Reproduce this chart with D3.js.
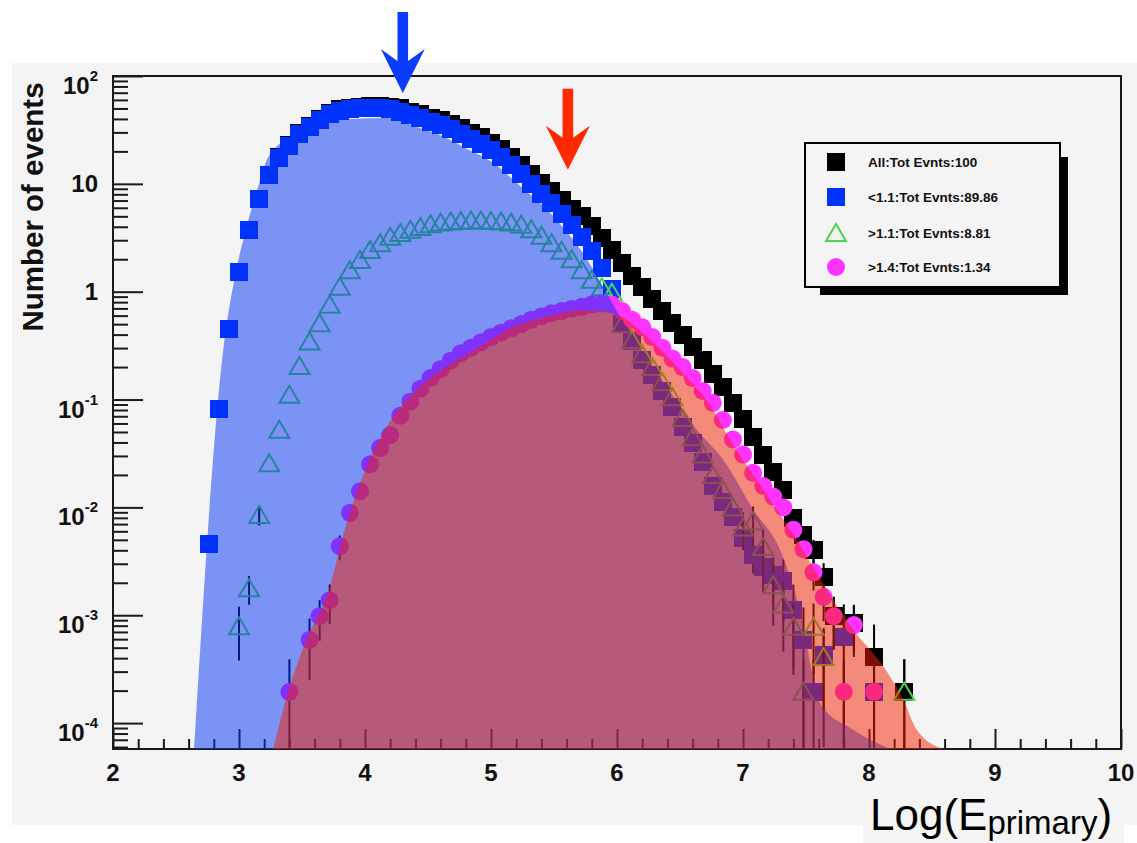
<!DOCTYPE html>
<html>
<head>
<meta charset="utf-8">
<script src="https://cdn.jsdelivr.net/npm/d3@7"></script>
<style>
  body { margin: 0; background: #ffffff; }
  svg { display: block; font-family: "Liberation Sans", Arial, Helvetica, sans-serif; }
</style>
</head>
<body>
<svg id="chart" width="1137" height="843"></svg>
<script>
// ---------------------------------------------------------------
// Histogram bin centres (log10 of primary energy), bin width 0.08
// ---------------------------------------------------------------
const logE = [
  2.76, 2.84, 2.92, 3.00, 3.08, 3.16, 3.24, 3.32, 3.40, 3.48,
  3.56, 3.64, 3.72, 3.80, 3.88, 3.96, 4.04, 4.12, 4.20, 4.28,
  4.36, 4.44, 4.52, 4.60, 4.68, 4.76, 4.84, 4.92, 5.00, 5.08,
  5.16, 5.24, 5.32, 5.40, 5.48, 5.56, 5.64, 5.72, 5.80, 5.88,
  5.96, 6.04, 6.12, 6.20, 6.28, 6.36, 6.44, 6.52, 6.60, 6.68,
  6.76, 6.84, 6.92, 7.00, 7.08, 7.16, 7.24, 7.32, 7.40, 7.48,
  7.56, 7.64, 7.72, 7.80, 7.88, 7.96, 8.04, 8.12, 8.20, 8.28
];

// Number of events per bin (null = empty bin)
const allEvents = [
  0.0046, 0.081, 0.45, 1.51, 3.72, 7.24, 12.0, 17.8, 22.9, 29.5,
  34.7, 39.8, 45.7, 49.0, 50.1, 51.3, 52.5, 52.5, 51.9, 50.1,
  46.8, 44.2, 41.2, 38.9, 35.9, 32.7, 29.9, 26.9, 24.0, 20.9,
  17.8, 14.8, 12.3, 10.2, 8.51, 7.08, 5.89, 5.01, 4.07, 3.16,
  2.45, 1.86, 1.41, 1.10, 0.851, 0.661, 0.513, 0.398, 0.309, 0.234,
  0.174, 0.132, 0.0933, 0.0661, 0.0447, 0.0309, 0.0214, 0.0145, 0.0079, 0.0055,
  0.0040, 0.00224, 0.00098, 0.00063, 0.00085, null, 0.00041, null, null, 0.000195
];
const ltOne = [
  0.0046, 0.081, 0.45, 1.51, 3.72, 7.24, 12.0, 17.4, 22.4, 28.8,
  33.9, 38.9, 44.2, 47.3, 49.0, 50.1, 50.7, 50.1, 49.0, 46.8,
  43.7, 40.7, 37.6, 35.1, 32.0, 28.8, 26.0, 23.2, 20.4, 17.6,
  14.8, 12.3, 10.0, 8.13, 6.61, 5.25, 4.17, 3.24, 2.40, 1.66,
  1.07, 0.50, 0.347, 0.234, 0.170, 0.120, 0.0851, 0.0562, 0.0398, 0.0263,
  0.0158, 0.0112, 0.00813, 0.00525, 0.00363, 0.00282, 0.00234, 0.00209, 0.00112, 0.00059,
  0.000195, 0.00043, null, 0.00063, null, null, 0.000195, null, null, null
];
const gtOne = [
  null, null, null, 0.00079, 0.00178, 0.0085, 0.0257, 0.0525, 0.111, 0.205,
  0.345, 0.51, 0.755, 1.11, 1.58, 1.97, 2.44, 2.82, 3.24, 3.51,
  3.76, 3.98, 4.22, 4.37, 4.47, 4.52, 4.57, 4.57, 4.52, 4.47,
  4.37, 4.17, 3.80, 3.31, 2.82, 2.40, 2.00, 1.58, 1.29, 1.10,
  0.98, 0.50, 0.355, 0.263, 0.20, 0.145, 0.105, 0.0676, 0.0447, 0.0309,
  0.020, 0.0145, 0.010, 0.0065, 0.0074, 0.0043, 0.0019, 0.00126, 0.00078, 0.000195,
  0.00078, 0.00041, null, null, null, null, null, null, null, 0.000195
];
const gtOneFour = [
  null, null, null, null, null, null, null, null, 0.000195, null,
  0.00059, 0.00098, 0.00138, 0.00437, 0.0089, 0.0141, 0.0251, 0.0355, 0.0468, 0.0708,
  0.0955, 0.126, 0.158, 0.191, 0.229, 0.269, 0.302, 0.339, 0.380, 0.417,
  0.457, 0.501, 0.550, 0.589, 0.631, 0.661, 0.692, 0.724, 0.759, 0.776,
  0.759, 0.661, 0.550, 0.468, 0.380, 0.302, 0.240, 0.200, 0.158, 0.120,
  0.0933, 0.0646, 0.0427, 0.0309, 0.0209, 0.0158, 0.0126, 0.0100, 0.0062, 0.0041,
  0.0025, 0.00148, 0.00098, 0.000195, 0.00081, null, 0.000195, null, null, null
];

// Statistical errors on the sparsely populated bins: [logE, error]
const allErr = [[7.40, 0.0015], [7.48, 0.0012], [7.56, 0.0010], [7.64, 0.0008], [7.72, 0.0005],
                [7.88, 0.0004], [8.04, 0.00041], [8.28, 0.000195]];
const ltOneErr = [[7.08, 0.0012], [7.16, 0.0012], [7.24, 0.0011], [7.32, 0.0012], [7.40, 0.0008],
                  [7.48, 0.00059], [7.56, 0.000195], [7.64, 0.0003], [7.80, 0.00063], [8.04, 0.000195]];
const gtOneErr = [[3.00, 0.00041], [3.08, 0.00053], [3.16, 0.0017], [7.00, 0.0025], [7.08, 0.0028],
                  [7.16, 0.0020], [7.24, 0.0011], [7.32, 0.0008], [7.40, 0.0005], [7.48, 0.000195],
                  [7.56, 0.0005], [7.64, 0.00035], [8.28, 0.000195]];
const gtOneFourErr = [[3.40, 0.000195], [3.56, 0.00034], [3.64, 0.0004], [3.72, 0.00055], [3.80, 0.0011],
                      [3.88, 0.0016], [7.56, 0.0008], [7.64, 0.0006], [7.72, 0.0005], [7.80, 0.000195],
                      [7.88, 0.0004], [8.04, 0.000195]];

// Shaded envelopes: [logE, events]; 0 = down to the lower edge of the frame
const lowBand = [
  [2.643, 0], [2.875, 0.289], [2.968, 1.38], [3.061, 4.01], [3.153, 9.42], [3.22, 16.6],
  [3.405, 27.4], [3.55, 36.3], [3.867, 39.8], [4.172, 40.7], [4.437, 32.7], [4.595, 28.4],
  [4.78, 22.0], [5.045, 14.8], [5.204, 10.2], [5.442, 5.8], [5.60, 3.6], [5.706, 2.5],
  [5.812, 1.6], [5.918, 0.97], [6.024, 0.587], [6.236, 0.25], [6.447, 0.107], [6.633, 0.0525],
  [6.844, 0.0276], [7.082, 0.0095], [7.294, 0.00405], [7.452, 0.00112], [7.611, 0.000153],
  [7.875, 0.0000869], [8.167, 0]
];
const highBand = [
  [3.272, 0], [3.379, 0.000177], [3.537, 0.000593], [3.696, 0.00149], [3.855, 0.00714],
  [4.013, 0.0239], [4.225, 0.0695], [4.437, 0.132], [4.648, 0.202], [4.913, 0.31],
  [5.177, 0.475], [5.442, 0.587], [5.706, 0.678], [5.918, 0.655], [6.024, 0.597],
  [6.236, 0.384], [6.5, 0.188], [6.764, 0.0802], [6.897, 0.0423], [7.161, 0.0146],
  [7.426, 0.00501], [7.664, 0.00172], [7.875, 0.000735], [8.113, 0.000336],
  [8.272, 0.000165], [8.379, 0.0000869], [8.59, 0]
];

// Axis ticks
const xMajorTicks = [2, 3, 4, 5, 6, 7, 8, 9, 10];
const yDecades = [-4, -3, -2, -1, 0, 1, 2];

// Legend
const legendLabels = ["All:Tot Evnts:100", "<1.1:Tot Evnts:89.86", ">1.1:Tot Evnts:8.81", ">1.4:Tot Evnts:1.34"];

// Arrows marking the two peak positions: [logE, tip value]
const arrowMarks = [[4.30, 69.5], [5.61, 13.5]];

// ---------------------------------------------------------------
const svg = d3.select("#chart");
const frame = { left: 113, right: 1121, top: 76, bottom: 749 };
const x = d3.scaleLinear().domain([2, 10]).range([frame.left, frame.right]);
const y = d3.scaleLog().domain([5.75e-5, 100]).range([frame.bottom, frame.top]);

const BG = "#f4f4f4";
const colAll = "#000000", colLow = "#0033ff", colMid = "#4fd34f", colHigh = "#ff33ff";

// canvas
svg.append("rect").attr("x", 12).attr("y", 63).attr("width", 1125).attr("height", 762).attr("fill", BG);
svg.append("rect").attr("x", 863).attr("y", 790).attr("width", 261).attr("height", 53).attr("fill", BG);

svg.append("defs").append("clipPath").attr("id", "plotClip")
  .append("rect").attr("x", frame.left).attr("y", frame.top)
  .attr("width", frame.right - frame.left).attr("height", frame.bottom - frame.top);

// ---- axes (ticks inside the frame) ----
const axisG = svg.append("g");
const yMajor = yDecades.map(d => Math.pow(10, d));
const yMinor = [];
for (let d = -5; d <= 1; d++) for (let k = 2; k <= 9; k++) {
  const v = k * Math.pow(10, d);
  if (v >= y.domain()[0] && v <= 100) yMinor.push(v);
}
axisG.append("g").attr("transform", `translate(${frame.left},0)`)
  .call(d3.axisRight(y).tickValues(yMajor).tickSize(30).tickFormat(""))
  .call(g => g.select(".domain").remove());
axisG.append("g").attr("transform", `translate(${frame.left},0)`)
  .call(d3.axisRight(y).tickValues(yMinor).tickSize(15).tickFormat(""))
  .call(g => g.select(".domain").remove());
const xMinor = d3.range(2.2, 10, 0.2).filter(v => Math.abs(v - Math.round(v)) > 0.01);
axisG.append("g").attr("transform", `translate(0,${frame.bottom})`)
  .call(d3.axisTop(x).tickValues(xMajorTicks).tickSize(20).tickFormat(""))
  .call(g => g.select(".domain").remove());
axisG.append("g").attr("transform", `translate(0,${frame.bottom})`)
  .call(d3.axisTop(x).tickValues(xMinor).tickSize(10).tickFormat(""))
  .call(g => g.select(".domain").remove());
axisG.selectAll(".tick line").attr("stroke", "#1a1a1a").attr("stroke-width", 2);

svg.append("rect").attr("x", frame.left).attr("y", frame.top)
  .attr("width", frame.right - frame.left).attr("height", frame.bottom - frame.top)
  .attr("fill", "none").attr("stroke", "#1a1a1a").attr("stroke-width", 2);

// x tick labels
svg.append("g").selectAll("text").data(xMajorTicks).join("text")
  .attr("x", d => x(d)).attr("y", frame.bottom + 32)
  .attr("text-anchor", "middle").attr("font-size", 24).attr("font-weight", "bold")
  .attr("fill", "#111").text(d => d);

// y tick labels: 1 and 10 plain, other decades as powers of ten
const yLab = svg.append("g").attr("font-weight", "bold").attr("fill", "#111");
yDecades.forEach(d => {
  const ty = y(Math.pow(10, d));
  if (d === 0 || d === 1) {
    yLab.append("text").attr("x", 98).attr("y", ty + 8).attr("text-anchor", "end")
      .attr("font-size", 24).text(d === 0 ? "1" : "10");
  } else {
    const t = yLab.append("text").attr("x", 98).attr("y", ty + 18).attr("text-anchor", "end");
    t.append("tspan").attr("font-size", 24).text("10");
    t.append("tspan").attr("font-size", 15).attr("dy", -13).text(d);
  }
});

// axis titles
svg.append("text").attr("transform", "translate(43,207) rotate(-90)")
  .attr("text-anchor", "middle").attr("font-size", 29.5).attr("font-weight", "bold")
  .attr("fill", "#111").text("Number of events");
const xt = svg.append("text").attr("x", 870).attr("y", 830).attr("fill", "#000");
xt.append("tspan").attr("font-size", 44).text("Log(E");
xt.append("tspan").attr("font-size", 33).attr("dy", 4).text("primary");
xt.append("tspan").attr("font-size", 44).attr("dy", -4).text(")");

// ---- data points ----
const plot = svg.append("g").attr("clip-path", "url(#plotClip)");
const floorY = frame.bottom;

function toPoints(vals) {
  return logE.map((e, i) => ({ e, v: vals[i] })).filter(p => p.v !== null && p.v > 0);
}
function valueAt(e, vals) {
  const i = logE.findIndex(b => Math.abs(b - e) < 1e-6);
  return vals[i];
}
function drawErrors(list, vals) {
  plot.append("g").selectAll("line").data(list).join("line")
    .attr("x1", d => x(d[0])).attr("x2", d => x(d[0]))
    .attr("y1", d => y(valueAt(d[0], vals) + d[1]))
    .attr("y2", d => {
      const v = valueAt(d[0], vals);
      return v - d[1] > y.domain()[0] ? y(v - d[1]) : floorY;
    })
    .attr("stroke", "#000").attr("stroke-width", 2);
}
const SQ = 18;
function squares(vals, color) {
  plot.append("g").selectAll("rect").data(toPoints(vals)).join("rect")
    .attr("x", d => x(d.e) - SQ / 2).attr("y", d => y(d.v) - SQ / 2)
    .attr("width", SQ).attr("height", SQ).attr("fill", color)
    .attr("shape-rendering", "crispEdges");
}
const triPath = "M0,-9 L10,8 L-10,8 Z";
function triangles(vals, color) {
  plot.append("g").selectAll("path").data(toPoints(vals)).join("path")
    .attr("transform", d => `translate(${x(d.e)},${y(d.v)})`)
    .attr("d", triPath).attr("fill", "none").attr("stroke", color).attr("stroke-width", 2);
}
function circles(vals, color) {
  plot.append("g").selectAll("circle").data(toPoints(vals)).join("circle")
    .attr("cx", d => x(d.e)).attr("cy", d => y(d.v)).attr("r", 9).attr("fill", color);
}

drawErrors(allErr, allEvents);      squares(allEvents, colAll);
drawErrors(ltOneErr, ltOne);        squares(ltOne, colLow);
drawErrors(gtOneErr, gtOne);        triangles(gtOne, colMid);
drawErrors(gtOneFourErr, gtOneFour); circles(gtOneFour, colHigh);

// ---- translucent envelopes drawn over the points ----
const band = d3.area()
  .x(d => x(d[0]))
  .y0(floorY)
  .y1(d => d[1] > 0 ? y(d[1]) : floorY)
  .curve(d3.curveMonotoneX);
plot.append("path").attr("d", band(lowBand)).attr("fill", "rgb(0,50,246)").attr("fill-opacity", 0.5);
plot.append("path").attr("d", band(highBand)).attr("fill", "rgb(244,32,0)").attr("fill-opacity", 0.5);

// ---- legend ----
const lg = svg.append("g");
lg.append("rect").attr("x", 820).attr("y", 157).attr("width", 248).attr("height", 138).attr("fill", "#000");
lg.append("rect").attr("x", 805).attr("y", 143).attr("width", 255).attr("height", 144)
  .attr("fill", BG).attr("stroke", "#000").attr("stroke-width", 2);
const rowY = [162, 197, 233, 267];
lg.append("rect").attr("x", 827).attr("y", rowY[0] - 9).attr("width", SQ).attr("height", SQ).attr("fill", colAll);
lg.append("rect").attr("x", 827).attr("y", rowY[1] - 9).attr("width", SQ).attr("height", SQ).attr("fill", colLow);
lg.append("path").attr("transform", `translate(836,${rowY[2]})`).attr("d", triPath)
  .attr("fill", "none").attr("stroke", colMid).attr("stroke-width", 2);
lg.append("circle").attr("cx", 836).attr("cy", rowY[3]).attr("r", 9).attr("fill", colHigh);
lg.selectAll("text.lbl").data(legendLabels).join("text").attr("class", "lbl")
  .attr("x", 868).attr("y", (d, i) => rowY[i] + 5)
  .attr("font-size", 13.5).attr("font-weight", "bold").attr("fill", "#111").text(d => d);

// ---- peak arrows ----
const arrowShape = [[-5.3, -81], [5.3, -81], [5.3, -32], [22, -44], [0, 0], [-22, -44], [-5.3, -32]];
const arrowColors = ["#0a3cff", "#ff2a00"];
svg.append("g").selectAll("polygon").data(arrowMarks).join("polygon")
  .attr("points", d => arrowShape.map(p => [x(d[0]) + p[0], y(d[1]) + p[1]].join(",")).join(" "))
  .attr("fill", (d, i) => arrowColors[i]);
</script>
</body>
</html>
